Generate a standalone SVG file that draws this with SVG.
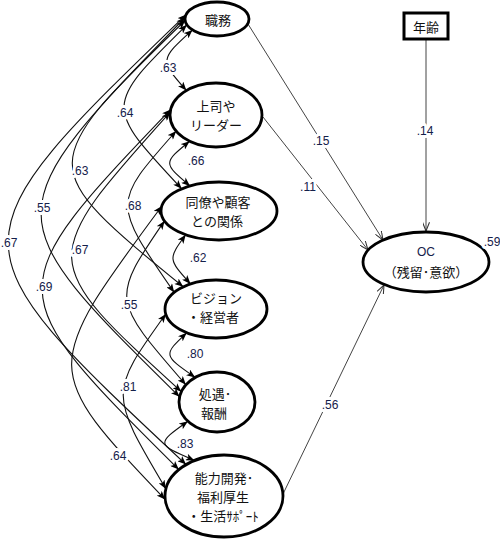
<svg xmlns="http://www.w3.org/2000/svg" width="500" height="540" viewBox="0 0 500 540">
<defs>
<marker id="a" viewBox="0 0 10 8" refX="10" refY="4" markerWidth="9" markerHeight="7" markerUnits="userSpaceOnUse" orient="auto-start-reverse">
<path d="M0,0 L10,4 L0,8 L2.5,4 z" fill="#000"/>
</marker>
<marker id="o" viewBox="0 0 10 8" refX="10" refY="4" markerWidth="9" markerHeight="7" markerUnits="userSpaceOnUse" orient="auto">
<path d="M0,0 L10,4 L0,8" fill="none" stroke="#333" stroke-width="1.2"/>
</marker>
<style>
.nd{fill:#fff;stroke:#000;stroke-width:2.8}
.jp{font-family:"Noto Sans CJK JP","Liberation Sans",sans-serif;font-size:13px;fill:#111;text-anchor:middle;dominant-baseline:central}
.cv{fill:none;stroke:#111;stroke-width:1.1;marker-start:url(#a);marker-end:url(#a)}
.ln{fill:none;stroke:#444;stroke-width:1;marker-end:url(#o)}
.n{font-family:"Liberation Sans",Arial,sans-serif;font-size:12px;fill:#14204a;text-anchor:middle;dominant-baseline:central;stroke:#fff;stroke-width:6px;paint-order:stroke;stroke-linejoin:round}
</style>
</defs>
<g id="connectors">
<path class="cv" d="M192.5,29.9 C159.5,59.9 159.5,59.9 186.4,90.5"/>
<path class="cv" d="M186.9,24.8 C104,106 104,106 181.7,188.8"/>
<path class="cv" d="M185.1,20.5 C35,166 35,166 183.2,286.8"/>
<path class="cv" d="M185.1,17.5 C-6,214 -6,214 179.6,396.8"/>
<path class="cv" d="M186.1,14.6 C-51,243 -51,243 186.1,464.6"/>
<path class="cv" d="M189.6,141.2 C163,163 163,163 190,185.9"/>
<path class="cv" d="M176.2,131 C112,203 112,203 174.2,292.4"/>
<path class="cv" d="M170.2,112.2 C37,260 37,260 181.3,391.7"/>
<path class="cv" d="M170.7,109.4 C-2,290 -2,290 178.8,469.6"/>
<path class="cv" d="M185.7,234.8 C168,259 168,259 190.5,283.9"/>
<path class="cv" d="M164.5,220.9 C111,299 111,299 185.9,384.8"/>
<path class="cv" d="M161.9,206 C41,369 41,369 165.2,499.6"/>
<path class="cv" d="M186.7,332.8 C163,355 163,355 195.2,377.4"/>
<path class="cv" d="M165.8,314 C109,393 109,393 165.9,488.9"/>
<path class="cv" d="M187.9,421.3 C156,444 156,444 194.5,460.5"/>
<path class="ln" d="M248,24 L383,240"/>
<path class="ln" d="M263,117 L368,250"/>
<path class="ln" d="M426,39 L426,231"/>
<path class="ln" d="M283,494 L384,285"/>
<text class="n" x="168" y="68">.63</text>
<text class="n" x="125" y="113">.64</text>
<text class="n" x="80" y="171">.63</text>
<text class="n" x="42" y="208">.55</text>
<text class="n" x="9" y="243">.67</text>
<text class="n" x="196" y="161">.66</text>
<text class="n" x="133" y="206">.68</text>
<text class="n" x="80" y="250">.67</text>
<text class="n" x="44" y="287">.69</text>
<text class="n" x="198" y="258">.62</text>
<text class="n" x="129" y="305">.55</text>
<text class="n" x="118" y="456">.64</text>
<text class="n" x="195" y="354">.80</text>
<text class="n" x="128" y="387">.81</text>
<text class="n" x="185" y="444">.83</text>
<text class="n" x="321" y="141">.15</text>
<text class="n" x="308" y="187">.11</text>
<text class="n" x="425" y="131">.14</text>
<text class="n" x="330" y="405">.56</text>
</g>
<g id="n1"><ellipse class="nd" cx="217" cy="19" rx="32" ry="17"/><text class="jp" x="218" y="19">職務</text></g>
<g id="n2"><ellipse class="nd" cx="216" cy="115" rx="46" ry="32"/><text class="jp" x="216" y="105">上司や</text><text class="jp" x="216" y="124">リーダー</text></g>
<g id="n3"><ellipse class="nd" cx="219" cy="211" rx="58" ry="29"/><text class="jp" x="218" y="201">同僚や顧客</text><text class="jp" x="217" y="220">との関係</text></g>
<g id="n4"><ellipse class="nd" cx="216" cy="309" rx="51" ry="29"/><text class="jp" x="216" y="297">ビジョン</text><text class="jp" x="213" y="316">・経営者</text></g>
<g id="n5"><ellipse class="nd" cx="217" cy="402" rx="38" ry="30"/><text class="jp" x="215" y="393">処遇･</text><text class="jp" x="214" y="412">報酬</text></g>
<g id="n6"><ellipse class="nd" cx="224" cy="496" rx="59" ry="41"/><text class="jp" x="224" y="477">能力開発･</text><text class="jp" x="223" y="496">福利厚生</text><text class="jp" x="223" y="515">・生活ｻﾎﾟｰﾄ</text></g>
<g id="age"><rect x="404" y="13" width="44" height="26" fill="#fff" stroke="#000" stroke-width="3"/><text class="jp" x="426" y="26">年齢</text></g>
<g id="oc"><ellipse class="nd" cx="426" cy="262" rx="63" ry="30"/><text class="jp" x="426" y="252" style="font-family:'Liberation Sans',sans-serif;font-size:12px;fill:#14204a">OC</text><text class="jp" x="426" y="271">（残留･意欲）</text><text class="n" x="492" y="242">.59</text></g>
</svg>
